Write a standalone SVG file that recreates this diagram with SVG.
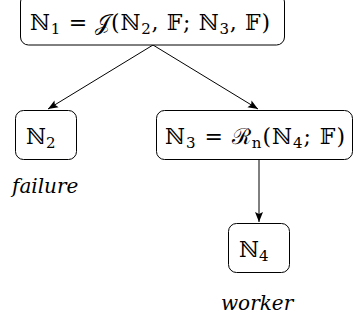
<svg xmlns="http://www.w3.org/2000/svg" width="359" height="321" viewBox="0 0 359 321">
<defs>
<style>
text{fill:#000}
.m{font-family:"DejaVu Serif",serif;font-size:22px}
.s{font-size:15px}
.lab{font-family:"DejaVu Serif",serif;font-style:italic;font-size:20px}
.box{fill:#fff;stroke:#000;stroke-width:1}
</style>
<marker id="ah" viewBox="0 0 10 10" refX="10" refY="5" markerWidth="10" markerHeight="10" markerUnits="userSpaceOnUse" orient="auto">
<path d="M0,1 L10,5 L0,9 L2,5 Z" fill="#000"/>
</marker>
</defs>
<g id="connectors" stroke="#000" stroke-width="1" fill="none" marker-end="url(#ah)">
<line x1="153" y1="45" x2="48" y2="109"/>
<line x1="153" y1="45" x2="258" y2="109"/>
<line x1="259" y1="160" x2="259" y2="222"/>
</g>
<g id="n1">
<rect class="box" x="20.5" y="-6" width="264" height="51" rx="8"/>
<text class="m" x="30" y="30" textLength="240" lengthAdjust="spacing">ℕ<tspan class="s" dy="4">1</tspan><tspan dy="-4"> = 𝒥(ℕ</tspan><tspan class="s" dy="4">2</tspan><tspan dy="-4">, 𝔽; ℕ</tspan><tspan class="s" dy="4">3</tspan><tspan dy="-4">, 𝔽)</tspan></text>
</g>
<g id="n2">
<rect class="box" x="15.5" y="110.5" width="61" height="49" rx="8"/>
<text class="m" x="26" y="144">ℕ<tspan class="s" dy="4">2</tspan></text>
</g>
<g id="n3">
<rect class="box" x="156.5" y="110.5" width="196" height="49" rx="8"/>
<text class="m" x="165" y="144" textLength="180" lengthAdjust="spacing">ℕ<tspan class="s" dy="4">3</tspan><tspan dy="-4"> = ℛ</tspan><tspan class="s" dy="4">n</tspan><tspan dy="-4">(ℕ</tspan><tspan class="s" dy="4">4</tspan><tspan dy="-4">; 𝔽)</tspan></text>
</g>
<g id="n4">
<rect class="box" x="228.5" y="223.5" width="61" height="49" rx="8"/>
<text class="m" x="239" y="257">ℕ<tspan class="s" dy="4">4</tspan></text>
</g>
<g id="labels">
<text class="lab" x="12" y="193">failure</text>
<text class="lab" x="221" y="310">worker</text>
</g>
</svg>
